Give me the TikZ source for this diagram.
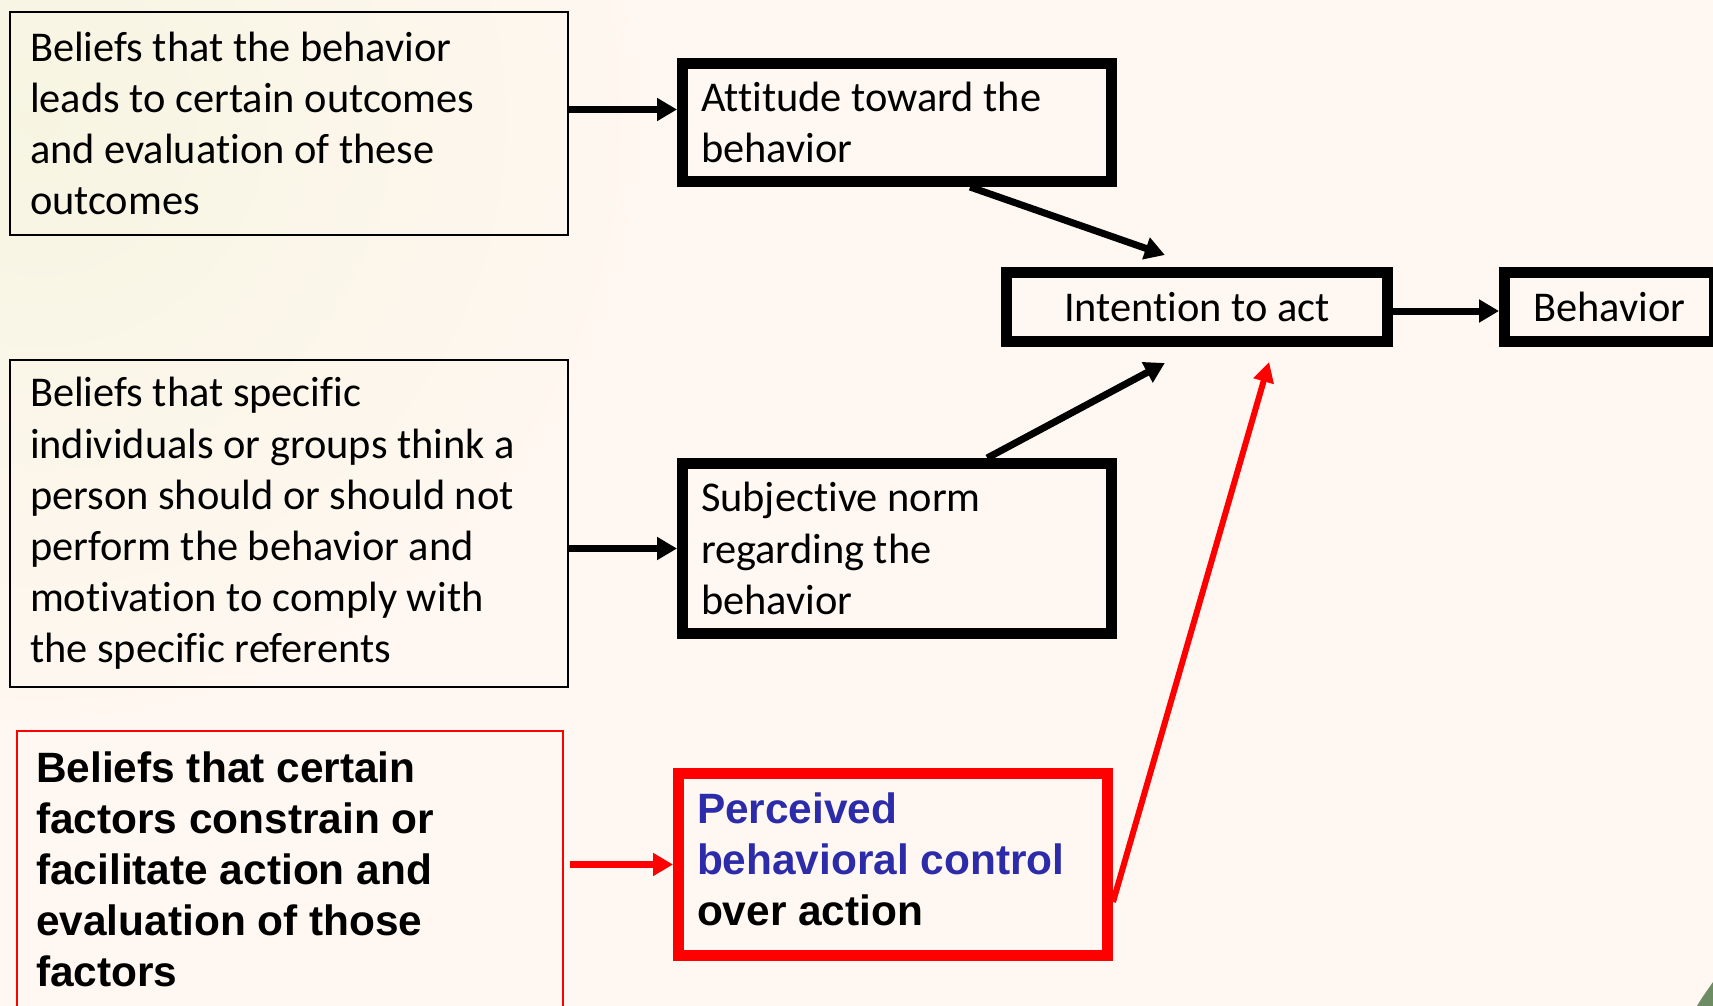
\documentclass[tikz,border=0pt]{standalone}
\usepackage{fontspec}
\setmainfont{Carlito}[Ligatures=NoCommon]
\newfontfamily\arialfont{Liberation Sans}
\usetikzlibrary{arrows.meta,calc}
\definecolor{bg}{RGB}{255,247,241}
\definecolor{pblue}{RGB}{44,44,170}
\definecolor{tint}{RGB}{247,245,226}
\definecolor{swoosh}{RGB}{110,140,100}
\begin{document}
\begin{tikzpicture}[x=0.5pt,y=-0.5pt,
  txt/.style={font=\fontsize{21.2}{25.6}\selectfont},
  boldtxt/.style={font=\arialfont\bfseries\fontsize{21.2}{25.5}\selectfont},
  natspace/.style={execute at begin node={\spaceskip=\fontdimen2\font\xspaceskip=\fontdimen2\font}},
  thinbox/.style={draw, line width=0.8pt, align=left, inner ysep=0pt, txt, natspace},
  thickbox/.style={draw, line width=5.5pt, inner ysep=0pt, txt, natspace},
  arr/.style={line width=3.5pt, -{Triangle[length=10pt,width=11pt]}},
  redarr/.style={red, line width=3.5pt, -{Triangle[length=10pt,width=11pt]}},
  redthin/.style={red, line width=3pt, -{Triangle[length=10pt,width=10pt]}}
]
\useasboundingbox (0,0) rectangle (1713,1006);
\fill[bg] (0,0) rectangle (1713,1006);
\shade[inner color=tint, outer color=bg] (40,120) circle (620);
\fill[swoosh] (1713,982) .. controls (1706,992) and (1701,999) .. (1697,1006) -- (1713,1006) -- cycle;

% left belief boxes
\node[thinbox, minimum width=279pt, minimum height=111.7pt, text width=259pt, inner xsep=10pt] (b1) at (289,123.5)
  {Beliefs that the behavior\\leads to certain outcomes\\and evaluation of these\\outcomes};
\node[thinbox, minimum width=279pt, minimum height=163.7pt, text width=259pt, inner xsep=10pt] (b2) at (289,523.5)
  {Beliefs that specific\\individuals or groups think a\\person should or should not\\perform the behavior and\\motivation to comply with\\the specific referents};
\node[thinbox, draw=red, boldtxt, minimum width=273pt, minimum height=138.6pt, text width=253.8pt, inner xsep=9.6pt] (b3) at (290,869.4)
  {Beliefs that certain\\factors constrain or\\facilitate action and\\evaluation of those\\factors};

% middle boxes
\node[thickbox, align=left, minimum width=214.5pt, minimum height=59pt, text width=196pt, inner xsep=9.25pt] (att) at (897,122.5)
  {Attitude toward the\\behavior};
\node[thickbox, align=left, minimum width=214.5pt, minimum height=85pt, text width=196pt, inner xsep=9.25pt] (subj) at (897,548.5)
  {Subjective norm\\regarding the\\behavior};
\node[thickbox, draw=red, align=left, boldtxt, minimum width=214.5pt, minimum height=91pt, text width=196pt, inner xsep=9.25pt] (perc) at (893,864.5)
  {\textcolor{pblue}{Perceived}\\\textcolor{pblue}{behavioral control}\\over action\rule[-5.5pt]{0pt}{5.5pt}};

% right boxes
\node[thickbox, align=center, minimum width=190.5pt, minimum height=34.5pt] (int) at (1197,307) {Intention to act};
\node[thickbox, minimum width=105pt, minimum height=34.5pt] (beh) at (1609.5,307) {Behavior};

% connectors
\coordinate (a1) at ([yshift=7pt]b1.east);
\draw[arr] (a1) -- (a1 -| att.west);
\draw[arr] (b2.east |- subj.west) -- (subj.west);
\coordinate (a3) at ([xshift=3pt]b3.east);
\draw[redarr] (a3 |- perc.west) -- (perc.west);
\draw[arr] ($(att.south west)!0.666!(att.south east)$) -- ($(int.north west)!0.418!(int.north east)+(0,-12)$);
\draw[arr] ($(subj.north west)!0.705!(subj.north east)$) -- ($(int.south west)!0.418!(int.south east)+(0,16)$);
\draw[redthin] ([yshift=-18.75pt]perc.east) -- ($(int.south west)!0.684!(int.south east)+(0,15)$);
\coordinate (a7) at ([yshift=-2pt]int.east);
\draw[arr] (a7) -- (a7 -| beh.west);
\end{tikzpicture}
\end{document}
